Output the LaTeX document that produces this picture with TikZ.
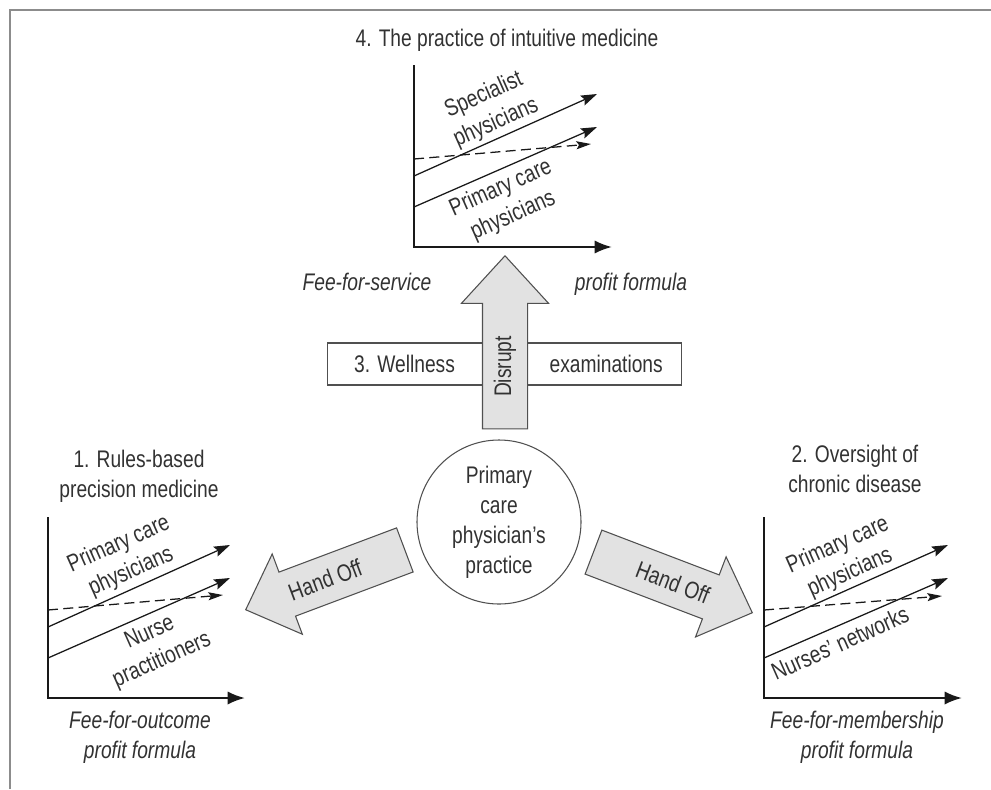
\documentclass[tikz,border=0pt]{standalone}
\usepackage{fontspec}
\setmainfont{Liberation Sans}[FakeStretch=0.8]
\usetikzlibrary{arrows.meta,positioning,calc,shapes.arrows}
\definecolor{TextGray}{RGB}{50,50,50}
\definecolor{LineGray}{RGB}{25,25,25}
\definecolor{FrameGray}{RGB}{140,140,140}
\definecolor{EdgeGray}{RGB}{80,80,80}
\definecolor{ArrowFill}{RGB}{226,226,226}

\begin{document}
\begin{tikzpicture}[x=0.75pt, y=-0.75pt, font=\fontsize{18}{22.5}\selectfont, text=TextGray,
    chartaxis/.style={line width=1.8pt, LineGray, -{Latex[length=13pt,width=10pt]}},
    trend/.style={line width=0.95pt, LineGray, -{Stealth[length=12pt,width=8pt,inset=2pt]}},
    flattrend/.style={line width=0.95pt, LineGray, dash pattern=on 7.5pt off 4pt, -{Stealth[length=11pt,width=6pt,inset=2pt]}},
    curve/.style={rotate=24, align=center, inner sep=0pt},
    bigarrow/.style={single arrow, draw=EdgeGray, fill=ArrowFill, line width=0.8pt,
      inner xsep=0pt, text height=0pt, text depth=0pt, single arrow tip angle=88}]
  \useasboundingbox (0,0) rectangle (991,789);
  \draw[FrameGray, line width=1.5pt] (10,789) -- (10,10) -- (991,10);

  % 4. top chart
  \begin{scope}[shift={(414,247)}]
    \draw[chartaxis] (0,-182) -- (0,0) -- (198,0);
    \draw[trend] (0,-71) -- (183,-153);
    \draw[trend] (0,-40) -- (183,-120);
    \draw[flattrend] (0,-88) -- (177,-103);
    \node[curve] (spec4) at (76,-138) {Specialist\\physicians};
    \node[curve] (prim4) at (93,-45) {Primary care\\physicians};
  \end{scope}
  \node[anchor=base, inner sep=0pt] (title4) at (507,46) {4. The practice of intuitive medicine};
  \node[anchor=base, inner sep=0pt] (fee4) at (367,290) {\itshape Fee-for-service};
  \node[anchor=base, inner sep=0pt] (formula4) at (631,290) {\itshape profit formula};

  % 1. left chart
  \begin{scope}[shift={(48,698)}]
    \draw[chartaxis] (0,-181) -- (0,0) -- (197,0);
    \draw[trend] (0,-71) -- (182,-153);
    \draw[trend] (0,-40) -- (182,-120);
    \draw[flattrend] (0,-88) -- (175,-103);
    \node[curve] (prim1) at (77,-140) {Primary care\\physicians};
    \node[curve] (nurse1) at (108,-51) {Nurse\\practitioners};
  \end{scope}
  \node[align=center, inner sep=0pt] (title1) at (139,476) {1. Rules-based\\precision medicine};
  \node[align=center, inner sep=0pt] (fee1) at (140,737) {\itshape Fee-for-outcome\\\itshape profit formula};

  % 2. right chart
  \begin{scope}[shift={(764,698)}]
    \draw[chartaxis] (0,-181) -- (0,0) -- (198,0);
    \draw[trend] (0,-71) -- (184,-153);
    \draw[trend] (0,-40) -- (184,-120);
    \draw[flattrend] (0,-88) -- (178,-102);
    \node[curve] (prim2) at (80,-139) {Primary care\\physicians};
    \node[curve] (nurse2) at (76,-55) {Nurses’ networks};
  \end{scope}
  \node[align=center, inner sep=0pt] (title2) at (855,469) {2. Oversight of\\chronic disease};
  \node[align=center, inner sep=0pt] (fee2) at (857,737) {\itshape Fee-for-membership\\\itshape profit formula};

  % 3. wellness bar and disrupt arrow
  \node[draw=EdgeGray, line width=0.8pt, fill=white, minimum width=265pt, minimum height=31.5pt, inner sep=0pt] (wellness) at (504.5,364) {};
  \node[inner sep=0pt, right=20pt of wellness.west] (well) {3. Wellness};
  \node[inner sep=0pt, left=14pt of wellness.east] (exam) {examinations};
  \node[bigarrow, inner ysep=16.5pt, single arrow head extend=15.75pt, single arrow tip angle=85,
    minimum height=129.75pt, rotate=90, anchor=tip] (disrupt) at (505,255) {};
  \node[rotate=90, inner sep=0pt] (disrupttext) at ($(disrupt.tail)!0.36!(disrupt.tip)$) {Disrupt};

  % centre practice
  \node[circle, draw=EdgeGray, line width=0.8pt, minimum size=123pt, align=center, inner sep=0pt] (practice) at (499,522)
    {Primary\\care\\physician’s\\practice};

  % hand off arrows
  \node[bigarrow, inner ysep=17.25pt, single arrow head extend=14.5pt, minimum height=127.5pt,
    rotate=200.6, anchor=tip] (handL) at (245,610) {};
  \node[rotate=20.6, inner sep=0pt] (handLtext) at ($(handL.tip)!0.5!(handL.tail)$) {Hand Off};
  \node[bigarrow, inner ysep=17.25pt, single arrow head extend=14.5pt, minimum height=127.5pt,
    rotate=-20.9, anchor=tip] (handR) at (753,613) {};
  \node[rotate=-20.9, inner sep=0pt] (handRtext) at ($(handR.tip)!0.5!(handR.tail)$) {Hand Off};
\end{tikzpicture}
\end{document}
